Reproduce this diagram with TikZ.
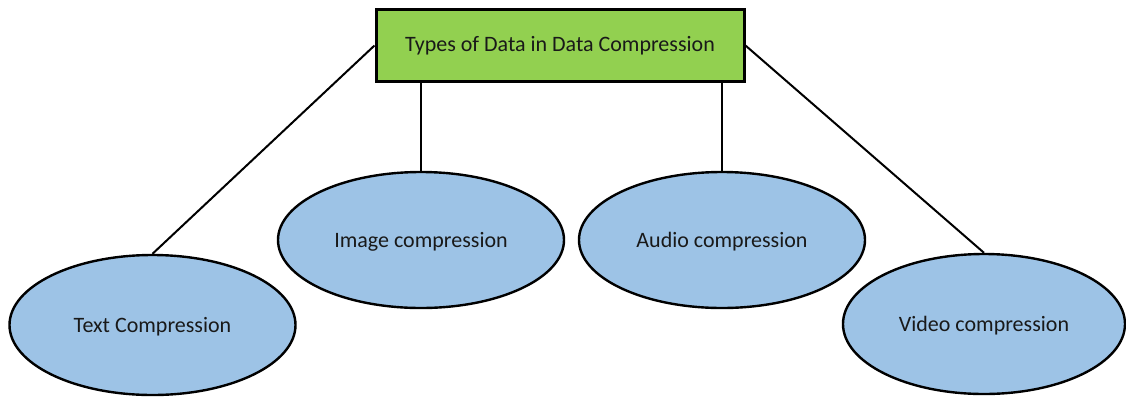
\documentclass[tikz,border=0pt]{standalone}
\usepackage{fontspec}
\setmainfont{Carlito}
\usetikzlibrary{shapes.geometric}

\definecolor{topgreen}{RGB}{146,208,80}
\definecolor{leafblue}{RGB}{157,195,230}

\begin{document}
\begin{tikzpicture}[
  x=0.5pt, y=-0.5pt,
  every node/.style={align=center, font=\fontsize{11}{13}\selectfont, text=black!90},
  topbox/.style={rectangle, draw, line width=1.5pt, fill=topgreen,
    minimum width=184pt, minimum height=36pt, inner sep=0pt},
  leaf/.style={ellipse, draw, line width=1.2pt, fill=leafblue, text depth=0pt,
    minimum width=143pt, minimum height=68pt, inner sep=0pt},
  branch/.style={line width=1pt}]

\useasboundingbox (0,0) rectangle (1126,398);

% Root box and the four kinds of data below it
\node[topbox] (types) at (560,45.5) {Types of Data in Data Compression};

\node[leaf, minimum height=70pt] (text) at (152.5,325) {Text Compression};
\node[leaf] (image) at (421,240) {Image compression};
\node[leaf] (audio) at (722,240) {Audio compression};
\node[leaf, minimum width=141pt, minimum height=70pt] (video) at (984,324) {Video compression};

% Connect the root to each kind
\draw[branch] (types.west) -- (text.north);
\draw[branch] (image.north |- types.south) -- (image.north);
\draw[branch] (audio.north |- types.south) -- (audio.north);
\draw[branch] (types.east) -- (video.north);

\end{tikzpicture}
\end{document}
